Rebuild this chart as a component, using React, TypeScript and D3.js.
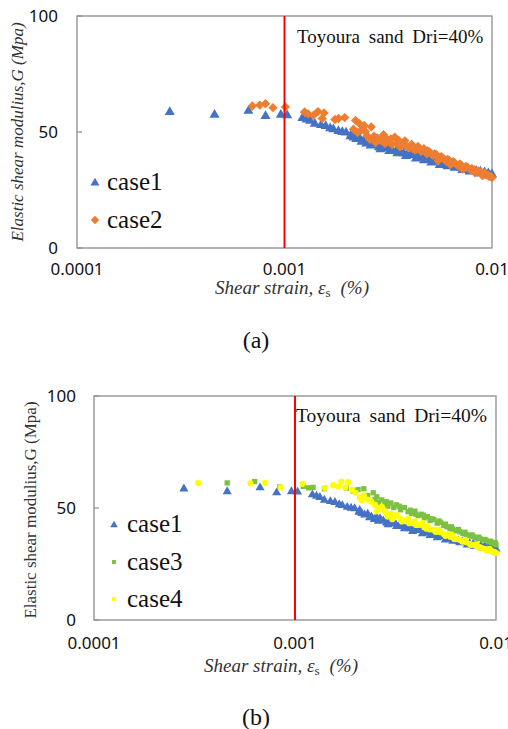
import React from 'react';
import * as d3 from 'd3';

// [shear strain (%), G (MPa)]
const case1: [number, number][] = [
  [2.8e-4, 59], [4.6e-4, 57.8], [6.7e-4, 59.5], [8.1e-4, 57.3], [9.6e-4, 57.8], [1.03e-3, 57.6],
  [1.22e-3, 56.4], [1.28e-3, 55.8], [1.33e-3, 55.2], [1.4e-3, 54], [1.5e-3, 53.4], [1.58e-3, 53],
  [1.66e-3, 52], [1.72e-3, 51.6], [1.82e-3, 50.8], [1.9e-3, 50.4], [1.98e-3, 50.2], [2.08e-3, 48.6],
  [2.15e-3, 48], [2.22e-3, 47.4], [2.3e-3, 47.8], [2.4e-3, 46.6], [2.48e-3, 45.4], [2.55e-3, 46.2],
  [2.65e-3, 45.8], [2.75e-3, 44.8], [2.85e-3, 43.8], [2.95e-3, 44.2], [3.05e-3, 43.4], [3.15e-3, 43.6],
  [3.3e-3, 42.8], [3.45e-3, 42.2], [3.6e-3, 41.8], [3.75e-3, 41.2], [3.9e-3, 40.8], [4.05e-3, 40.4],
  [4.2e-3, 40.6], [4.4e-3, 39.8], [4.6e-3, 39.4], [4.8e-3, 38.8], [5.0e-3, 38.4], [5.2e-3, 38.0],
  [5.45e-3, 37.6], [5.7e-3, 37.0], [5.95e-3, 36.6], [6.2e-3, 36.4], [6.5e-3, 35.8], [6.8e-3, 35.4],
  [7.1e-3, 35.0], [7.4e-3, 34.6], [7.7e-3, 34.4], [8.0e-3, 34.0], [8.4e-3, 33.6], [8.8e-3, 33.4],
  [9.2e-3, 33.0], [9.6e-3, 32.6], [1.0e-2, 32.2],
  [2.1e-3, 49.4], [2.35e-3, 46.2], [2.6e-3, 44.6], [2.9e-3, 43.0], [3.2e-3, 42.2], [3.5e-3, 41.2],
  [3.85e-3, 40.0], [4.3e-3, 39.0], [4.7e-3, 38.2], [5.1e-3, 37.2], [5.6e-3, 36.2], [6.1e-3, 35.6],
  [6.6e-3, 35.0], [7.2e-3, 34.0], [7.8e-3, 33.4], [8.6e-3, 32.6], [9.4e-3, 31.8], [9.8e-3, 31.4],
];

const case2: [number, number][] = [
  [7.0e-4, 61.2], [7.6e-4, 61.6], [8.1e-4, 62.2], [8.8e-4, 60.5], [1.01e-3, 60.8], [1.25e-3, 58.6],
  [1.3e-3, 57.8], [1.38e-3, 57.2], [1.45e-3, 58.8], [1.52e-3, 55.8], [1.55e-3, 58.2], [1.75e-3, 55.4],
  [1.82e-3, 55.8], [1.95e-3, 56.2], [2.15e-3, 51.2], [2.2e-3, 55], [2.25e-3, 49.8], [2.3e-3, 53.6],
  [2.35e-3, 50.8], [2.42e-3, 52.8], [2.5e-3, 48.4], [2.58e-3, 46.8], [2.62e-3, 52.2], [2.7e-3, 48.2],
  [2.8e-3, 47.4], [2.9e-3, 46.4], [3.0e-3, 48.8], [3.1e-3, 47.2], [3.2e-3, 45.6], [3.3e-3, 44.6],
  [3.4e-3, 47.8], [3.5e-3, 45.2], [3.6e-3, 43.6], [3.7e-3, 44.8], [3.8e-3, 46.2], [3.95e-3, 43.2],
  [4.1e-3, 44.6], [4.25e-3, 42.2], [4.4e-3, 43.8], [4.55e-3, 41.6], [4.7e-3, 42.8], [4.85e-3, 40.6],
  [5.0e-3, 41.4], [5.2e-3, 39.8], [5.4e-3, 40.2], [5.6e-3, 38.6], [5.8e-3, 38.8], [6.0e-3, 37.4],
  [6.2e-3, 37.8], [6.4e-3, 36.4], [6.6e-3, 36.8], [6.85e-3, 35.4], [7.1e-3, 35.8], [7.35e-3, 34.4],
  [7.6e-3, 34.8], [7.9e-3, 33.6], [8.2e-3, 33.8], [8.5e-3, 32.6], [8.8e-3, 32.8], [9.1e-3, 31.8],
  [9.4e-3, 31.6], [9.7e-3, 30.8], [1.0e-2, 30.4],
  [2.45e-3, 50.2], [2.75e-3, 45.4], [3.05e-3, 45.0], [3.25e-3, 47.0], [3.55e-3, 46.4], [3.85e-3, 44.0],
  [4.15e-3, 42.8], [4.5e-3, 42.6], [4.9e-3, 41.8], [5.3e-3, 40.6], [5.7e-3, 39.4], [6.1e-3, 38.2],
  [6.5e-3, 37.2], [7.0e-3, 36.2], [7.5e-3, 35.2], [8.0e-3, 34.2], [8.6e-3, 33.2], [9.2e-3, 32.2],
  [9.6e-3, 31.4], [9.9e-3, 30.8], [5.5e-3, 37.6], [6.3e-3, 36.0], [7.2e-3, 34.0], [8.3e-3, 32.4],
  [9.0e-3, 31.2],
];

const case3: [number, number][] = [
  [4.6e-4, 61.2], [6.3e-4, 61.8], [8.4e-4, 59.4], [1.1e-3, 59.6], [1.17e-3, 59.0], [1.23e-3, 59.2],
  [1.4e-3, 58.6], [1.8e-3, 58.9], [1.95e-3, 57.6], [2.06e-3, 58.2], [2.2e-3, 58.6], [2.3e-3, 55.6],
  [2.45e-3, 56.8], [2.5e-3, 53.8], [2.6e-3, 52.4], [2.7e-3, 53.6], [2.8e-3, 51.8], [2.9e-3, 50.8],
  [3.0e-3, 52.2], [3.1e-3, 50.2], [3.2e-3, 51.4], [3.35e-3, 49.2], [3.5e-3, 50.2], [3.65e-3, 48.4],
  [3.8e-3, 47.6], [3.95e-3, 48.6], [4.1e-3, 46.6], [4.25e-3, 47.2], [4.4e-3, 45.6], [4.55e-3, 46.2],
  [4.7e-3, 44.4], [4.9e-3, 44.8], [5.1e-3, 43.2], [5.3e-3, 43.6], [5.5e-3, 42.2], [5.7e-3, 41.6],
  [5.9e-3, 40.8], [6.1e-3, 40.6], [6.35e-3, 39.8], [6.6e-3, 39.4], [6.85e-3, 38.6], [7.1e-3, 38.2],
  [7.4e-3, 37.6], [7.7e-3, 37.2], [8.0e-3, 36.6], [8.3e-3, 36.4], [8.6e-3, 35.8], [8.9e-3, 35.6],
  [9.2e-3, 35.0], [9.5e-3, 34.6], [9.8e-3, 34.2], [1.0e-2, 33.6],
  [2.55e-3, 55.0], [2.85e-3, 52.8], [3.3e-3, 50.8], [3.75e-3, 49.0], [4.0e-3, 47.2], [4.35e-3, 46.8],
  [4.8e-3, 45.2], [5.2e-3, 44.2], [5.6e-3, 42.8], [6.0e-3, 41.6], [6.5e-3, 40.4], [7.0e-3, 39.2],
  [7.6e-3, 38.0], [8.2e-3, 37.0], [8.8e-3, 36.0], [9.4e-3, 35.2], [9.9e-3, 34.6],
];

const case4: [number, number][] = [
  [3.3e-4, 61.2], [6.0e-4, 61.0], [7.1e-4, 61.2], [8.5e-4, 59.2], [1.09e-3, 60.8], [1.41e-3, 59.0],
  [1.55e-3, 60.2], [1.64e-3, 59.6], [1.7e-3, 61.8], [1.78e-3, 59.2], [1.84e-3, 61.6], [1.92e-3, 58.2],
  [2.0e-3, 56.8], [2.1e-3, 54.6], [2.2e-3, 55.6], [2.3e-3, 53.8], [2.4e-3, 52.8], [2.5e-3, 51.4],
  [2.6e-3, 49.8], [2.7e-3, 50.6], [2.8e-3, 48.6], [2.9e-3, 46.2], [3.0e-3, 47.4], [3.1e-3, 45.8],
  [3.2e-3, 46.8], [3.35e-3, 45.0], [3.5e-3, 44.2], [3.65e-3, 45.2], [3.8e-3, 43.4], [3.95e-3, 44.0],
  [4.1e-3, 42.4], [4.25e-3, 42.6], [4.4e-3, 41.4], [4.55e-3, 41.6], [4.7e-3, 40.4], [4.9e-3, 40.4],
  [5.1e-3, 39.4], [5.3e-3, 39.2], [5.5e-3, 38.4], [5.7e-3, 38.0], [5.9e-3, 37.2], [6.1e-3, 37.0],
  [6.35e-3, 36.2], [6.6e-3, 35.8], [6.85e-3, 35.2], [7.1e-3, 34.8], [7.4e-3, 34.0], [7.7e-3, 33.6],
  [8.0e-3, 33.0], [8.3e-3, 32.6], [8.6e-3, 32.0], [8.9e-3, 31.6], [9.2e-3, 31.2], [9.5e-3, 30.8],
  [9.8e-3, 30.4], [1.0e-2, 30.0],
  [2.15e-3, 53.4], [2.55e-3, 48.6], [2.85e-3, 47.6], [3.05e-3, 45.0], [3.4e-3, 44.0], [3.7e-3, 43.2],
  [4.0e-3, 42.4], [4.5e-3, 40.8], [5.0e-3, 39.4], [5.6e-3, 37.6], [6.2e-3, 36.2], [6.8e-3, 35.0],
  [7.5e-3, 33.6], [8.2e-3, 32.2], [9.0e-3, 31.0], [9.7e-3, 30.0], [4.3e-3, 43.4], [5.2e-3, 40.4],
  [6.0e-3, 38.0], [7.0e-3, 35.8], [8.0e-3, 33.8], [9.3e-3, 31.8],
];

const xTicks = [0.0001, 0.001, 0.01];
const xTickLabels = ['0.0001', '0.001', '0.01'];
const yTicks = [0, 50, 100];
const annotation = 'Toyoura sand Dri=40%';

const BLUE = '#4472c4';
const ORANGE = '#ed7d31';
const GREEN = '#7cc142';
const YELLOW = '#ffff00';
const SERIF = '"Liberation Serif", "Times New Roman", serif';
const SANS = '"Noto Sans", "Open Sans", sans-serif';

type Series = { name: string; data: [number, number][]; color: string; shape: string; size: number };

const triangle = d3.symbol(d3.symbolTriangle, 44)();
const bigSquare = d3.symbol(d3.symbolSquare, 44)();
const square = d3.symbol(d3.symbolSquare, 28)();

function marker(shape: string, color: string, x: number, y: number, key: string | number, scale = 1) {
  if (shape === 'triangle') {
    return <path key={key} d={triangle} transform={`translate(${x},${y + 1}) scale(${scale})`} fill={color} />;
  }
  if (shape === 'diamond') {
    return <path key={key} d={bigSquare} transform={`translate(${x},${y}) rotate(45) scale(${scale})`} fill={color} />;
  }
  if (shape === 'square') {
    return <path key={key} d={square} transform={`translate(${x},${y}) scale(${scale})`} fill={color} />;
  }
  return <circle key={key} cx={x} cy={y} r={3.1 * scale} fill={color} />;
}

function Panel(props: {
  left: number; right: number; top: number; bottom: number;
  series: Series[]; italicY: boolean; yTitleX: number;
  tickLabelRight: number; xTitleX: number; xTitleY: number; tickY: number;
  legendX: number; legendTextX: number; legendY: number[]; legendScale: number; legendFont: number;
  noteX: number; noteY: number; noteFont: number; label: string; labelY: number;
}) {
  const p = props;
  const x = d3.scaleLog().domain([0.0001, 0.01]).range([p.left, p.right]);
  const y = d3.scaleLinear().domain([0, 100]).range([p.bottom, p.top]);
  return (
    <g>
      <rect x={p.left} y={p.top} width={p.right - p.left} height={p.bottom - p.top} fill="white" stroke="#8c8c8c" strokeWidth={1.3} />
      {yTicks.map(t => (
        <g key={t}>
          <line x1={p.left} x2={p.left + 5} y1={y(t)} y2={y(t)} stroke="#8c8c8c" strokeWidth={1.2} />
          <text x={p.tickLabelRight} y={y(t)} dy="0.36em" textAnchor="end" fontFamily={SANS} fontSize={17} fill="#111">{t}</text>
        </g>
      ))}
      {xTicks.map((t, i) => (
        <text key={t} x={x(t)} y={p.tickY} textAnchor="middle" fontFamily={SANS} fontSize={17} fill="#111">{xTickLabels[i]}</text>
      ))}
      {p.series.map(s => (
        <g key={s.name}>
          {s.data.map((d, i) => marker(s.shape, s.color, x(d[0]), y(d[1]), i, s.size))}
        </g>
      ))}
      <line x1={x(0.001)} x2={x(0.001)} y1={p.top} y2={p.bottom} stroke="#ff0000" strokeWidth={2} />
      <text x={p.noteX} y={p.noteY} fontFamily={SERIF} fontSize={p.noteFont} wordSpacing={4} fill="#111">{annotation}</text>
      {p.series.map((s, i) => (
        <g key={'lg' + s.name}>
          {marker(s.shape, s.color, p.legendX, p.legendY[i] - 8, 'm', p.legendScale)}
          <text x={p.legendTextX} y={p.legendY[i]} fontFamily={SERIF} fontSize={p.legendFont} fill="#111">{s.name}</text>
        </g>
      ))}
      <text transform={`translate(${p.yTitleX},${(p.top + p.bottom) / 2 + (p.italicY ? 0 : 2)}) rotate(-90)`} textAnchor="middle" dy="0.35em"
        fontFamily={SERIF} fontSize={17} fontStyle={p.italicY ? 'italic' : 'normal'} fill="#333">
        Elastic shear modulius,G (Mpa)
      </text>
      <text x={p.xTitleX} y={p.xTitleY} textAnchor="middle" fontFamily={SERIF} fontSize={19} fill="#333" fontStyle="italic">
        Shear strain, ε<tspan fontStyle="normal" fontSize={13} dy={3}>s</tspan><tspan dy={-3} dx={10}>(%)</tspan>
      </text>
      <text x={256} y={p.labelY} textAnchor="middle" fontFamily={SERIF} fontSize={24} fill="#111">{p.label}</text>
    </g>
  );
}

export default function App() {
  return (
    <svg width={508} height={729} style={{ position: 'absolute', left: 0, top: 0, background: 'white' }}>
      <rect width={508} height={729} fill="white" />
      <Panel left={77} right={492} top={16} bottom={248}
        series={[
          { name: 'case1', data: case1, color: BLUE, shape: 'triangle', size: 1 },
          { name: 'case2', data: case2, color: ORANGE, shape: 'diamond', size: 1 },
        ]}
        italicY={true} yTitleX={17} tickLabelRight={58} xTitleX={292} xTitleY={294} tickY={275}
        legendX={95} legendTextX={107} legendY={[190, 228]} legendScale={0.9} legendFont={25}
        noteX={297} noteY={43} noteFont={19} label="(a)" labelY={348} />
      <Panel left={94} right={496} top={396} bottom={620}
        series={[
          { name: 'case1', data: case1, color: BLUE, shape: 'triangle', size: 0.9 },
          { name: 'case3', data: case3, color: GREEN, shape: 'square', size: 1 },
          { name: 'case4', data: case4, color: YELLOW, shape: 'circle', size: 1 },
        ]}
        italicY={false} yTitleX={30} tickLabelRight={76} xTitleX={281} xTitleY={672} tickY={649}
        legendX={114} legendTextX={127} legendY={[532, 570, 607]} legendScale={0.75} legendFont={25}
        noteX={296} noteY={422} noteFont={19.5} label="(b)" labelY={725} />
    </svg>
  );
}
